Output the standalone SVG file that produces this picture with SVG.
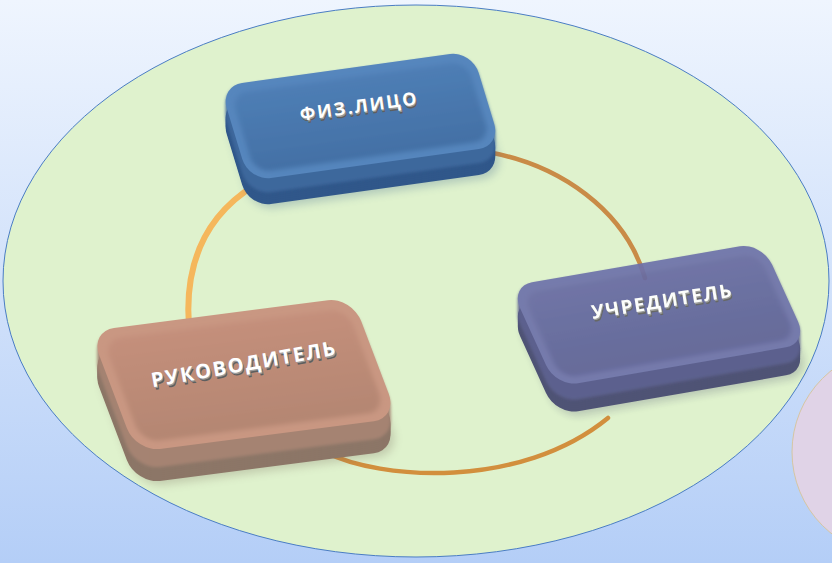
<svg xmlns="http://www.w3.org/2000/svg" xmlns:xlink="http://www.w3.org/1999/xlink" width="832" height="563" viewBox="0 0 832 563">
<style>
.lbl{font-family:"Open Sans","Liberation Sans",sans-serif;font-weight:700;text-anchor:middle;fill:#ffffff;}
.sh1{fill:#9a9a9a;}
.sh2{fill:#5e5e5e;}
.conn{fill:none;stroke-linecap:round;filter:url(#soft);}
</style>
<defs>
<linearGradient id="bg" x1="0" y1="0" x2="0" y2="1">
<stop offset="0" stop-color="#eff5fe"/>
<stop offset="1" stop-color="#b4cef7"/>
</linearGradient>
<filter id="soft" x="-10%" y="-10%" width="120%" height="120%"><feGaussianBlur stdDeviation="0.7"/></filter>
<filter id="bev" x="-10%" y="-10%" width="120%" height="120%"><feGaussianBlur stdDeviation="2.5"/></filter>
<filter id="sideblur" x="-10%" y="-10%" width="120%" height="120%"><feGaussianBlur stdDeviation="1.5"/></filter>
<filter id="shadow" x="-20%" y="-20%" width="140%" height="140%"><feGaussianBlur stdDeviation="4"/></filter>
<rect id="s1" x="0" y="0" width="252" height="95" rx="22" transform="matrix(1,-0.1388,0.3043,1,220,86)"/>
<rect id="s2" x="0" y="0" width="252" height="101" rx="22" transform="matrix(1,-0.1723,0.4554,1,510,286)"/>
<rect id="s3" x="0" y="0" width="262" height="121" rx="24" transform="matrix(1,-0.1294,0.3793,1,90,331)"/>
<linearGradient id="f1" x1="0" y1="0" x2="0" y2="1">
<stop offset="0" stop-color="#4e7eb5"/><stop offset="1" stop-color="#4370a5"/>
</linearGradient>
<linearGradient id="f2" x1="0" y1="0" x2="0" y2="1">
<stop offset="0" stop-color="#686ca3"/><stop offset="1" stop-color="#5d6196"/>
</linearGradient>
<linearGradient id="f3" x1="0" y1="0" x2="0" y2="1">
<stop offset="0" stop-color="#c48f7b"/><stop offset="1" stop-color="#b48672"/>
</linearGradient>
</defs>

<rect x="0" y="0" width="832" height="563" fill="url(#bg)"/>
<ellipse cx="416" cy="281" rx="413" ry="276" fill="#dff2cd" stroke="#4a7dc4" stroke-width="1"/>
<circle cx="896" cy="452" r="104" fill="#e0d3e7" stroke="#d6c6a2" stroke-width="1"/>

<g id="connectors">
<path class="conn" d="M191,345 C183,290 190,225 255,185" stroke="#f5b75c" stroke-width="6"/>
<path class="conn" d="M488,152 C560,165 625,210 645,278" stroke="#c98b46" stroke-width="4.5"/>
<path class="conn" d="M325,452 C380,480 520,490 608,418" stroke="#d28f3e" stroke-width="4.5"/>
</g>

<g id="node-fiz">
<use xlink:href="#s1" transform="translate(4,30)" fill="#2f5585" opacity="0.25" filter="url(#shadow)"/>
<g fill="#30578a">
<use xlink:href="#s1" transform="translate(0,26)"/>
<use xlink:href="#s1" transform="translate(0,24)"/>
<use xlink:href="#s1" transform="translate(0,22)"/>
<use xlink:href="#s1" transform="translate(0,20)"/>
<use xlink:href="#s1" transform="translate(0,18)"/>
<use xlink:href="#s1" transform="translate(0,16)"/>
</g>
<g fill="#3d689c" filter="url(#sideblur)">
<use xlink:href="#s1" transform="translate(0,14)"/>
<use xlink:href="#s1" transform="translate(0,11)"/>
<use xlink:href="#s1" transform="translate(0,8)"/>
<use xlink:href="#s1" transform="translate(0,5)"/>
<use xlink:href="#s1" transform="translate(0,2)"/>
</g>
<use xlink:href="#s1" fill="#5686bd"/>
<rect x="8" y="9" width="236" height="79" rx="16" transform="matrix(1,-0.1388,0.3043,1,220,86)" fill="url(#f1)" filter="url(#bev)"/>
<g transform="translate(359,106) rotate(-8)">
<text class="lbl sh2" x="1.2" y="9.5" font-size="18" letter-spacing="2">ФИЗ.ЛИЦО</text>
<text class="lbl sh1" x="0.6" y="8" font-size="18" letter-spacing="2">ФИЗ.ЛИЦО</text>
<text class="lbl" x="0" y="6.5" font-size="18" letter-spacing="2">ФИЗ.ЛИЦО</text>
</g>
</g>

<g id="node-uchr" opacity="0.93">
<use xlink:href="#s2" transform="translate(4,32)" fill="#3a3d62" opacity="0.25" filter="url(#shadow)"/>
<g fill="#45486f">
<use xlink:href="#s2" transform="translate(0,28)"/>
<use xlink:href="#s2" transform="translate(0,26)"/>
<use xlink:href="#s2" transform="translate(0,24)"/>
<use xlink:href="#s2" transform="translate(0,22)"/>
<use xlink:href="#s2" transform="translate(0,20)"/>
<use xlink:href="#s2" transform="translate(0,18)"/>
</g>
<g fill="#53568a" filter="url(#sideblur)">
<use xlink:href="#s2" transform="translate(0,16)"/>
<use xlink:href="#s2" transform="translate(0,13)"/>
<use xlink:href="#s2" transform="translate(0,10)"/>
<use xlink:href="#s2" transform="translate(0,7)"/>
<use xlink:href="#s2" transform="translate(0,4)"/>
<use xlink:href="#s2" transform="translate(0,2)"/>
</g>
<use xlink:href="#s2" fill="#6e72aa"/>
<rect x="8" y="9" width="236" height="85" rx="16" transform="matrix(1,-0.1723,0.4554,1,510,286)" fill="url(#f2)" filter="url(#bev)"/>
<g transform="translate(662,301) rotate(-9)">
<text class="lbl sh2" x="1.2" y="9.8" font-size="19" letter-spacing="1.6">УЧРЕДИТЕЛЬ</text>
<text class="lbl sh1" x="0.6" y="8.3" font-size="19" letter-spacing="1.6">УЧРЕДИТЕЛЬ</text>
<text class="lbl" x="0" y="6.8" font-size="19" letter-spacing="1.6">УЧРЕДИТЕЛЬ</text>
</g>
</g>

<g id="node-ruk">
<use xlink:href="#s3" transform="translate(4,36)" fill="#6f5e52" opacity="0.25" filter="url(#shadow)"/>
<g fill="#8c7667">
<use xlink:href="#s3" transform="translate(0,32)"/>
<use xlink:href="#s3" transform="translate(0,30)"/>
<use xlink:href="#s3" transform="translate(0,28)"/>
<use xlink:href="#s3" transform="translate(0,26)"/>
<use xlink:href="#s3" transform="translate(0,24)"/>
<use xlink:href="#s3" transform="translate(0,22)"/>
<use xlink:href="#s3" transform="translate(0,20)"/>
</g>
<g fill="#a58372" filter="url(#sideblur)">
<use xlink:href="#s3" transform="translate(0,18)"/>
<use xlink:href="#s3" transform="translate(0,15)"/>
<use xlink:href="#s3" transform="translate(0,12)"/>
<use xlink:href="#s3" transform="translate(0,9)"/>
<use xlink:href="#s3" transform="translate(0,6)"/>
<use xlink:href="#s3" transform="translate(0,3)"/>
</g>
<use xlink:href="#s3" fill="#c99782"/>
<rect x="9" y="10" width="244" height="103" rx="18" transform="matrix(1,-0.1294,0.3793,1,90,331)" fill="url(#f3)" filter="url(#bev)"/>
<g transform="translate(244,364) rotate(-10)">
<text class="lbl sh2" x="1.2" y="10" font-size="20" letter-spacing="1.8">РУКОВОДИТЕЛЬ</text>
<text class="lbl sh1" x="0.6" y="8.5" font-size="20" letter-spacing="1.8">РУКОВОДИТЕЛЬ</text>
<text class="lbl" x="0" y="7" font-size="20" letter-spacing="1.8">РУКОВОДИТЕЛЬ</text>
</g>
</g>
</svg>
